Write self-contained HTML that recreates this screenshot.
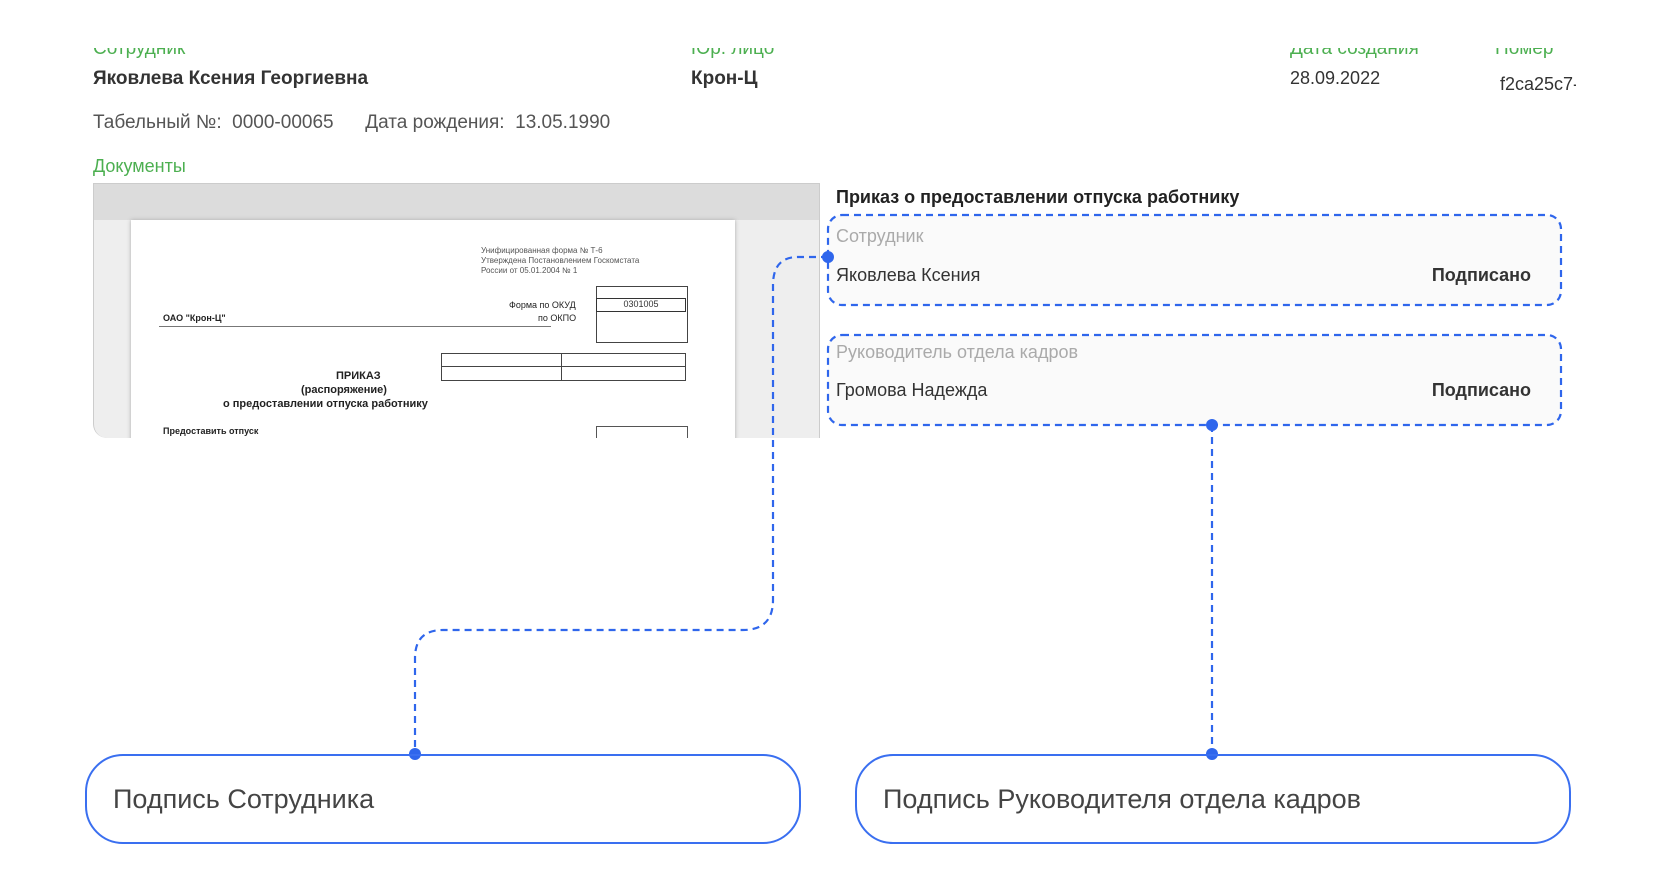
<!DOCTYPE html>
<html><head><meta charset="utf-8"><style>
body{margin:0;width:1653px;height:882px;background:#fff;position:relative;overflow:hidden;font-family:"Liberation Sans","DejaVu Sans",sans-serif;}
.a{position:absolute;white-space:nowrap;}
.g{color:#4caf50;font-size:17px;}
.k{color:#333;font-size:18px;}
.dt{position:absolute;font-family:"Liberation Sans",sans-serif;color:#222;white-space:nowrap;}
.bb{position:absolute;border:2.5px solid #3a6ff0;border-radius:38px;box-sizing:border-box;}
.bb span{position:absolute;left:26px;top:28px;font-size:27px;color:#444;}
</style></head><body>
<div class="a g" style="left:93px;top:38px;font-size:19px">Сотрудник</div>
<div class="a g" style="left:691px;top:38px;font-size:19px">Юр. лицо</div>
<div class="a g" style="left:1290px;top:38px;font-size:19px">Дата создания</div>
<div class="a g" style="left:1495px;top:38px;font-size:19px">Номер</div>
<div style="position:absolute;left:0;top:0;width:1653px;height:48px;background:#fff"></div>
<div class="a k" style="left:93px;top:68px;font-weight:bold;font-size:19px">Яковлева Ксения Георгиевна</div>
<div class="a k" style="left:691px;top:68px;font-weight:bold;font-size:19px">Крон-Ц</div>
<div class="a k" style="left:1290px;top:68px">28.09.2022</div>
<div class="a k" style="left:1500px;top:74px;width:76px;overflow:hidden">f2ca25c7-</div>
<div class="a k" style="left:93px;top:112px;color:#555;font-size:19px">Табельный №:&nbsp; 0000-00065 &nbsp;&nbsp;&nbsp;&nbsp; Дата рождения:&nbsp; 13.05.1990</div>
<div class="a g" style="left:93px;top:156px;font-size:18px">Документы</div>
<!-- doc preview -->
<div style="position:absolute;left:93px;top:183px;width:727px;height:255px;background:#eee;border:1px solid #ccc;border-bottom:none;border-radius:0 0 0 14px;overflow:hidden;box-sizing:border-box">
 <div style="height:36px;background:#dcdcdc"></div>
 <div style="position:absolute;left:37px;top:36px;width:604px;height:230px;background:#fff;box-shadow:0 0 4px #aaa">
  <div class="dt" style="left:350px;top:26px;font-size:8px;line-height:10px;color:#555">Унифицированная форма № Т-6<br>Утверждена Постановлением Госкомстата<br>России от 05.01.2004 № 1</div>
  <div style="position:absolute;left:465px;top:66px;width:90px;height:55px;border:1px solid #444"></div>
  <div style="position:absolute;left:465px;top:78px;width:90px;height:14px;border:1.5px solid #333;box-sizing:border-box;font-size:9px;text-align:center;color:#333">0301005</div>
  <div class="dt" style="left:378px;top:80px;font-size:9px">Форма по ОКУД</div>
  <div class="dt" style="left:407px;top:93px;font-size:9px">по ОКПО</div>
  <div class="dt" style="left:32px;top:93px;font-size:9px;font-weight:bold">ОАО "Крон-Ц"</div>
  <div style="position:absolute;left:28px;top:106px;width:392px;border-top:1px solid #777"></div>
  <div style="position:absolute;left:310px;top:133px;width:245px;height:28px;border:1.5px solid #444;box-sizing:border-box"></div>
  <div style="position:absolute;left:430px;top:133px;height:28px;border-left:1px solid #444"></div>
  <div style="position:absolute;left:310px;top:146px;width:245px;border-top:1px solid #444"></div>
  <div class="dt" style="left:205px;top:150px;font-size:11px;font-weight:bold">ПРИКАЗ</div>
  <div class="dt" style="left:170px;top:164px;font-size:11px;font-weight:bold">(распоряжение)</div>
  <div class="dt" style="left:92px;top:178px;font-size:11px;font-weight:bold">о предоставлении отпуска работнику</div>
  <div class="dt" style="left:32px;top:206px;font-size:9px;font-weight:bold">Предоставить отпуск</div>
  <div style="position:absolute;left:465px;top:206px;width:90px;height:20px;border:1px solid #555"></div>
 </div>
</div>
<div class="a" style="left:836px;top:187px;font-size:18px;font-weight:bold;color:#222">Приказ о предоставлении отпуска работнику</div>
<div style="position:absolute;left:828px;top:215px;width:733px;height:90px;background:#fafafa;border-radius:12px"></div>
<div style="position:absolute;left:828px;top:335px;width:733px;height:90px;background:#fafafa;border-radius:12px"></div>
<div class="a" style="left:836px;top:226px;font-size:18px;color:#aaa">Сотрудник</div>
<div class="a k" style="left:836px;top:265px">Яковлева Ксения</div>
<div class="a k" style="left:1426px;top:265px;font-weight:bold;width:105px;text-align:right">Подписано</div>
<div class="a" style="left:836px;top:342px;font-size:18px;color:#aaa">Руководитель отдела кадров</div>
<div class="a k" style="left:836px;top:380px">Громова Надежда</div>
<div class="a k" style="left:1426px;top:380px;font-weight:bold;width:105px;text-align:right">Подписано</div>
<svg style="position:absolute;left:0;top:0" width="1653" height="882">
 <g fill="none" stroke="#2f66ec" stroke-width="2.2" stroke-dasharray="7,5">
  <rect x="828" y="215" width="733" height="90" rx="14"/>
  <rect x="828" y="335" width="733" height="90" rx="14"/>
  <path d="M828 257 H798 Q773 257 773 285 V600 Q773 630 743 630 H443 Q415 630 415 658 V754"/>
  <path d="M1212 425 V754"/>
 </g>
 <g fill="#2f66ec"><circle cx="828" cy="257" r="6"/><circle cx="1212" cy="425" r="6"/><circle cx="415" cy="754" r="6"/><circle cx="1212" cy="754" r="6"/></g>
</svg>
<div class="bb" style="left:85px;top:754px;width:716px;height:90px"><span>Подпись Сотрудника</span></div>
<div class="bb" style="left:855px;top:754px;width:716px;height:90px"><span>Подпись Руководителя отдела кадров</span></div>
</body></html>
